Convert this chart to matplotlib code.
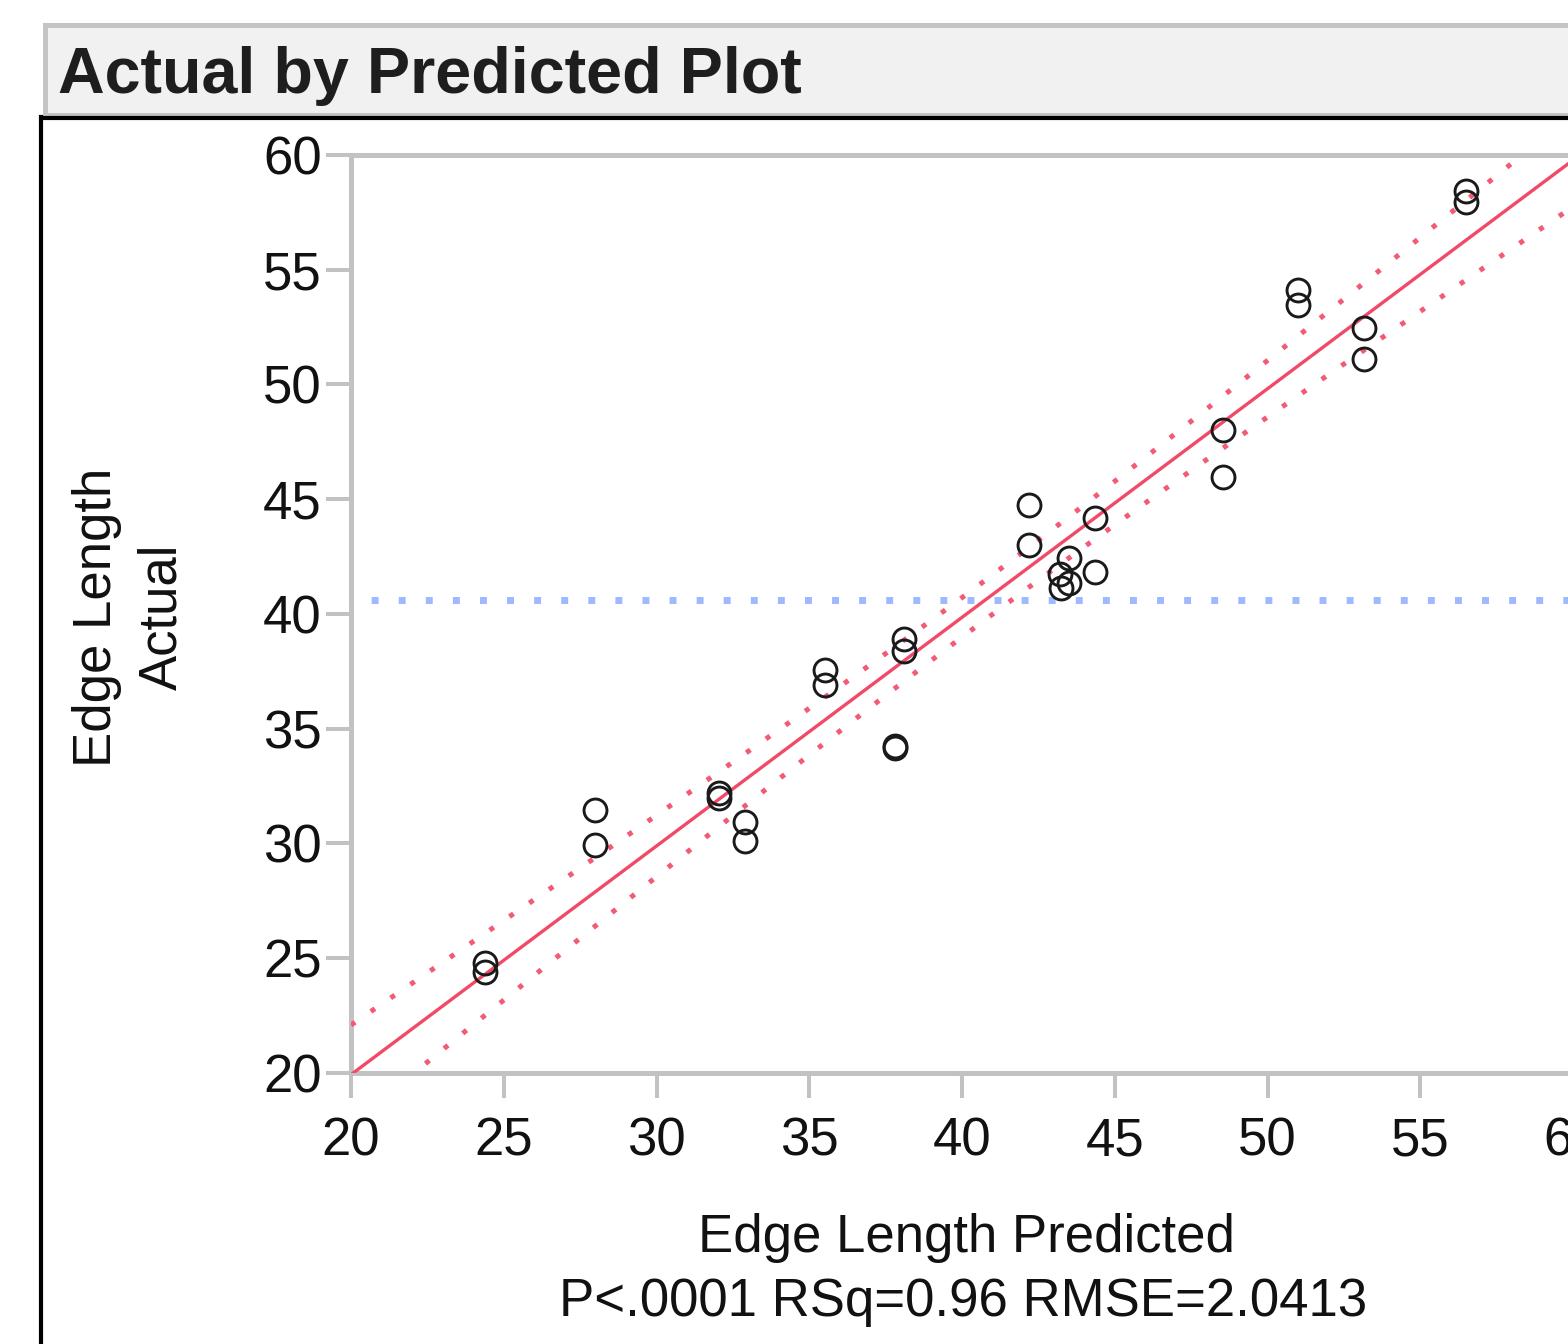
import numpy as np
import matplotlib
matplotlib.use("Agg")
import matplotlib.pyplot as plt
from matplotlib.patches import Rectangle
from matplotlib.lines import Line2D

plt.rcParams['font.family'] = ['Liberation Sans', 'DejaVu Sans']

# values
predicted = [24.4, 24.4, 28.0, 28.0, 32.05, 32.05, 32.9, 32.9, 35.5, 35.5,
             37.8, 37.8, 38.1, 38.1, 42.2, 42.2, 44.35, 44.35, 43.5, 43.2,
             43.5, 43.25, 48.55, 48.55, 51.0, 51.0, 53.15, 53.15, 56.5, 56.5]
actual = [24.8, 24.4, 31.45, 29.95, 32.2, 32.0, 30.95, 30.1, 37.55, 36.9,
          34.25, 34.15, 38.9, 38.4, 44.75, 43.0, 44.2, 41.85, 42.45, 41.75,
          41.35, 41.15, 48.0, 45.95, 54.1, 53.45, 52.45, 51.1, 58.45, 57.95]
x_ticks = [20, 25, 30, 35, 40, 45, 50, 55, 60]
y_ticks = [20, 25, 30, 35, 40, 45, 50, 55, 60]
title = "Actual by Predicted Plot"
x_label = "Edge Length Predicted"
stats_label = "P<.0001 RSq=0.96 RMSE=2.0413"
y_label = ["Edge Length", "Actual"]
rmse = 2.0413
band_mult = 2.3

W, H = 1568, 1344
GRAY = '#c2c2c2'
RED = '#f04a68'


def px(x, y):
	"""pixel position (from top-left) to figure fraction"""
	return x / W, 1 - y / H


xp = np.array(predicted)
ya = np.array(actual)
n = len(xp)
slope, icept = np.polyfit(xp, ya, 1)
sxx = np.sum((xp - xp.mean()) ** 2)

fig = plt.figure(figsize=(W / 100, H / 100), dpi=100)

# header strip
fig.patches.append(Rectangle(px(45, 115), (W + 20) / W, 90 / H, transform=fig.transFigure,
							 facecolor='#f1f1f1', edgecolor='#c4c4c4', linewidth=3.6, zorder=0))
fig.text(*px(58, 93), title, fontsize=46.5, fontweight='bold', color='#1e1e1e', va='baseline', ha='left')

# black frame
fig.lines.append(Line2D([43 / W, 1.01], [1 - 118 / H] * 2, transform=fig.transFigure, color='black', linewidth=3))
fig.lines.append(Line2D([41 / W] * 2, [1 - 117 / H, -0.01], transform=fig.transFigure, color='black', linewidth=3))

l, b = px(351, 1073)
r, t = px(1573, 155)
ax = fig.add_axes([l, b, r - l, t - b])

xx = np.linspace(20, 60, 400)
fit = icept + slope * xx
half = band_mult * rmse * np.sqrt(1 / n + (xx - xp.mean()) ** 2 / sxx)
ax.plot(xx, fit, color=RED, linewidth=2.4, zorder=3)
ax.plot(xx, fit + half, color='#f25a76', linewidth=3.6, linestyle=(0, (1, 3.8)), zorder=3)
ax.plot(xx, fit - half, color='#f25a76', linewidth=3.6, linestyle=(0, (1, 3.8)), zorder=3)
ax.axhline(ya.mean(), color='#9dbaff', linewidth=5, linestyle=(1, (1, 2.9)), zorder=2)

ax.plot(xp, ya, linestyle='None', marker='o', markersize=16.5, markerfacecolor='none',
		markeredgecolor='#1a1a1a', markeredgewidth=2.1, zorder=4)

ax.set_xlim(20, 60)
ax.set_ylim(20, 60)
ax.set_xticks(x_ticks)
ax.set_yticks(y_ticks)
for side in ['left', 'bottom', 'top']:
	ax.spines[side].set_color(GRAY)
	ax.spines[side].set_linewidth(3.6)
ax.spines['right'].set_visible(False)
ax.tick_params(axis='both', direction='out', color=GRAY, width=2.9, length=18,
			   labelsize=38, labelcolor='#111111')
ax.tick_params(axis='x', pad=13)
ax.tick_params(axis='y', pad=3)

fig.text(*px(97, 617), y_label[0], rotation=90, fontsize=38, ha='center', va='center', color='#111111')
fig.text(*px(162, 617), y_label[1], rotation=90, fontsize=38, ha='center', va='center', color='#111111')
fig.text(*px(966, 1252), x_label, fontsize=38, ha='center', va='baseline', color='#111111')
fig.text(*px(963, 1316), stats_label, fontsize=38, ha='center', va='baseline', color='#111111')

fig.savefig('out.png', dpi=100)
